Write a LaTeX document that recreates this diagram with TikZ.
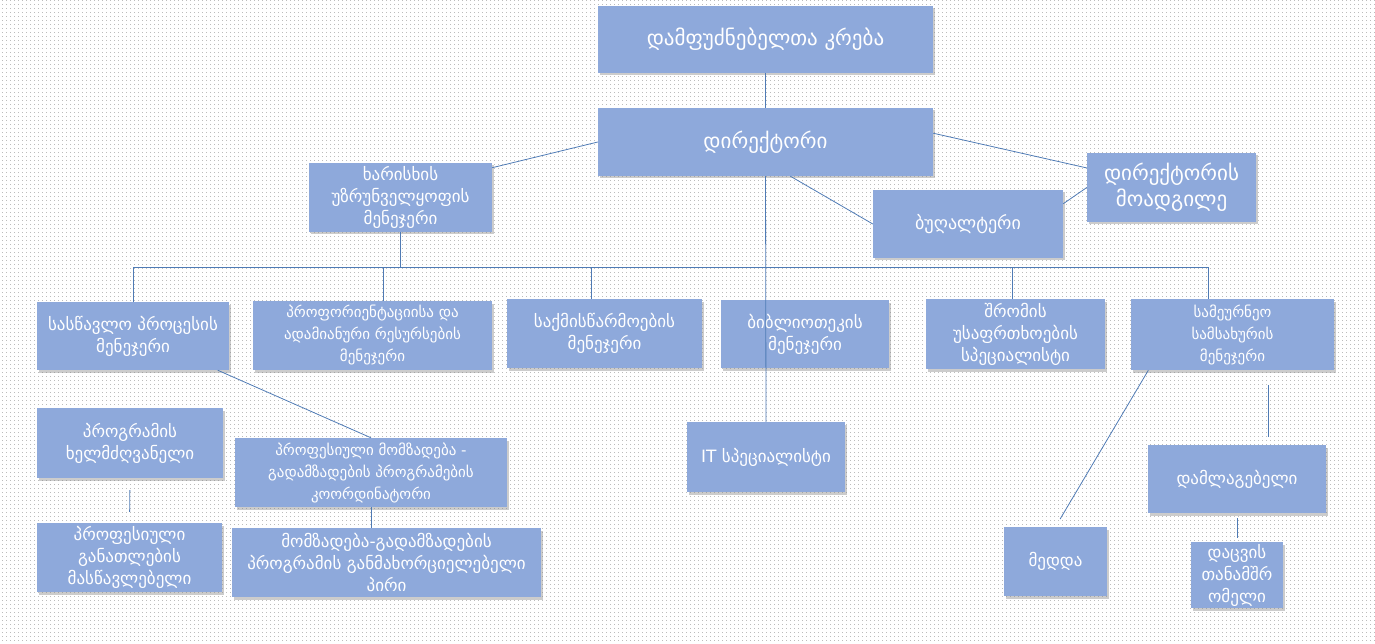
\documentclass[tikz,border=0pt]{standalone}
\usepackage{fontspec}
\setmainfont{DejaVu Sans}
\usepackage{tikz}
\usetikzlibrary{shadows,patterns.meta}
\definecolor{boxblue}{HTML}{8EA9DB}
\definecolor{linkblue}{HTML}{4F7BB5}
\definecolor{dotgrey}{HTML}{8A8A8A}

\begin{document}
\begin{tikzpicture}[x=1pt, y=-1pt,
  box/.style={fill=boxblue, draw=none, text=white, align=center, inner sep=1pt,
    drop shadow={shadow xshift=1.5pt, shadow yshift=-2.5pt, opacity=0.4}},
  bigtxt/.style={font=\fontsize{21}{26}\selectfont},
  midtxt/.style={font=\fontsize{17}{22}\selectfont},
  smalltxt/.style={font=\fontsize{15}{22}\selectfont},
  link/.style={draw=linkblue, line width=0.8pt},
]
\useasboundingbox (0,0) rectangle (1375,644);
% dotted page background
\fill[pattern={Dots[distance=4pt, radius=0.45pt]}, pattern color=dotgrey] (0,0) rectangle (1375,644);

% top of the chart
\node[box, bigtxt, minimum width=335, minimum height=67] (fnd) at (765.5,39.5) {დამფუძნებელთა კრება};
\node[box, bigtxt, minimum width=335, minimum height=68] (dir) at (765.5,142) {დირექტორი};
\node[box, midtxt, minimum width=183, minimum height=69] (qa) at (400.5,197.5) {ხარისხის\\უზრუნველყოფის\\მენეჯერი};
\node[box, midtxt, font=\fontsize{18}{22}\selectfont, minimum width=190, minimum height=68] (buh) at (968,224) {ბუღალტერი};
\node[box, bigtxt, minimum width=169, minimum height=69] (dep) at (1171.5,187.5) {დირექტორის\\მოადგილე};

% managers row
\node[box, midtxt, minimum width=192, minimum height=68] (slp) at (133,336) {სასწავლო პროცესის\\მენეჯერი};
\node[box, smalltxt, minimum width=239, minimum height=69] (hr) at (372.5,335.5) {პროფორიენტაციისა  და\\ადამიანური რესურსების\\მენეჯერი};
\node[box, midtxt, minimum width=195, minimum height=69] (doc) at (604.5,333.5) {საქმისწარმოების\\მენეჯერი};
\node[box, midtxt, minimum width=168, minimum height=68] (lib) at (805,334) {ბიბლიოთეკის\\მენეჯერი};
\node[box, midtxt, minimum width=179, minimum height=70] (saf) at (1015.5,334) {შრომის\\უსაფრთხოების\\სპეციალისტი};
\node[box, smalltxt, minimum width=203, minimum height=71] (eco) at (1232.5,334.5) {სამეურნეო\\სამსახურის\\მენეჯერი};

% lower levels
\node[box, midtxt, minimum width=186, minimum height=70] (lead) at (130,443) {პროგრამის\\ხელმძღვანელი};
\node[box, smalltxt, minimum width=272, minimum height=69] (coord) at (371,472.5) {პროფესიული  მომზადება -\\გადამზადების  პროგრამების\\კოორდინატორი};
\node[box, midtxt, minimum width=185, minimum height=69] (teach) at (129.5,557.5) {პროფესიული\\განათლების\\მასწავლებელი};
\node[box, midtxt, minimum width=309, minimum height=69] (impl) at (386.5,562.5) {მომზადება-გადამზადების\\პროგრამის  განმახორციელებელი\\პირი};
\node[box, midtxt, minimum width=158, minimum height=70] (it) at (766,457) {IT სპეციალისტი};
\node[box, midtxt, minimum width=103, minimum height=69] (nurse) at (1055.5,561.5) {მედდა};
\node[box, midtxt, minimum width=178, minimum height=68] (cln) at (1237,479) {დამლაგებელი};
\node[box, midtxt, minimum width=92, minimum height=66] (grd) at (1237,575) {დაცვის\\თანამშრ\\ომელი};

% connectors
\draw[link] (fnd) -- (dir);
\draw[link] (dir.west) -- (qa.18);
\draw[link] (dir.3) -- (dep.167);
\draw[link] (dir.-54) -- (buh.west);
\draw[link] (buh.12) -- (dep.west);
\draw[link] (dir.south) -- (it.north);

% bus to the managers row
\foreach \nd/\tx in {slp/133, hr/383, doc/591, saf/1012, eco/1208}
  \coordinate (bus\nd) at (\tx,267);
\draw[link] (busslp) -- (buseco);
\draw[link] (qa.south) -- (qa.south |- busslp);
\foreach \nd in {slp, hr, doc, saf, eco}
  \draw[link] (bus\nd) -- (bus\nd |- \nd.north);

\draw[link] (slp.-22.5) -- (coord.north);
\draw[link, shorten <=12pt, shorten >=11pt] (lead.south) -- (teach.north);
\draw[link] (coord.south) -- (coord.south |- impl.north);
\draw[link, shorten >=9pt] (eco.-157.5) -- (nurse.north);
\draw[link, shorten <=15pt, shorten >=8pt] (eco.-45) -- (eco.-45 |- cln.north);
\draw[link, shorten <=5pt, shorten >=4pt] (cln) -- (grd);
\end{tikzpicture}
\end{document}
